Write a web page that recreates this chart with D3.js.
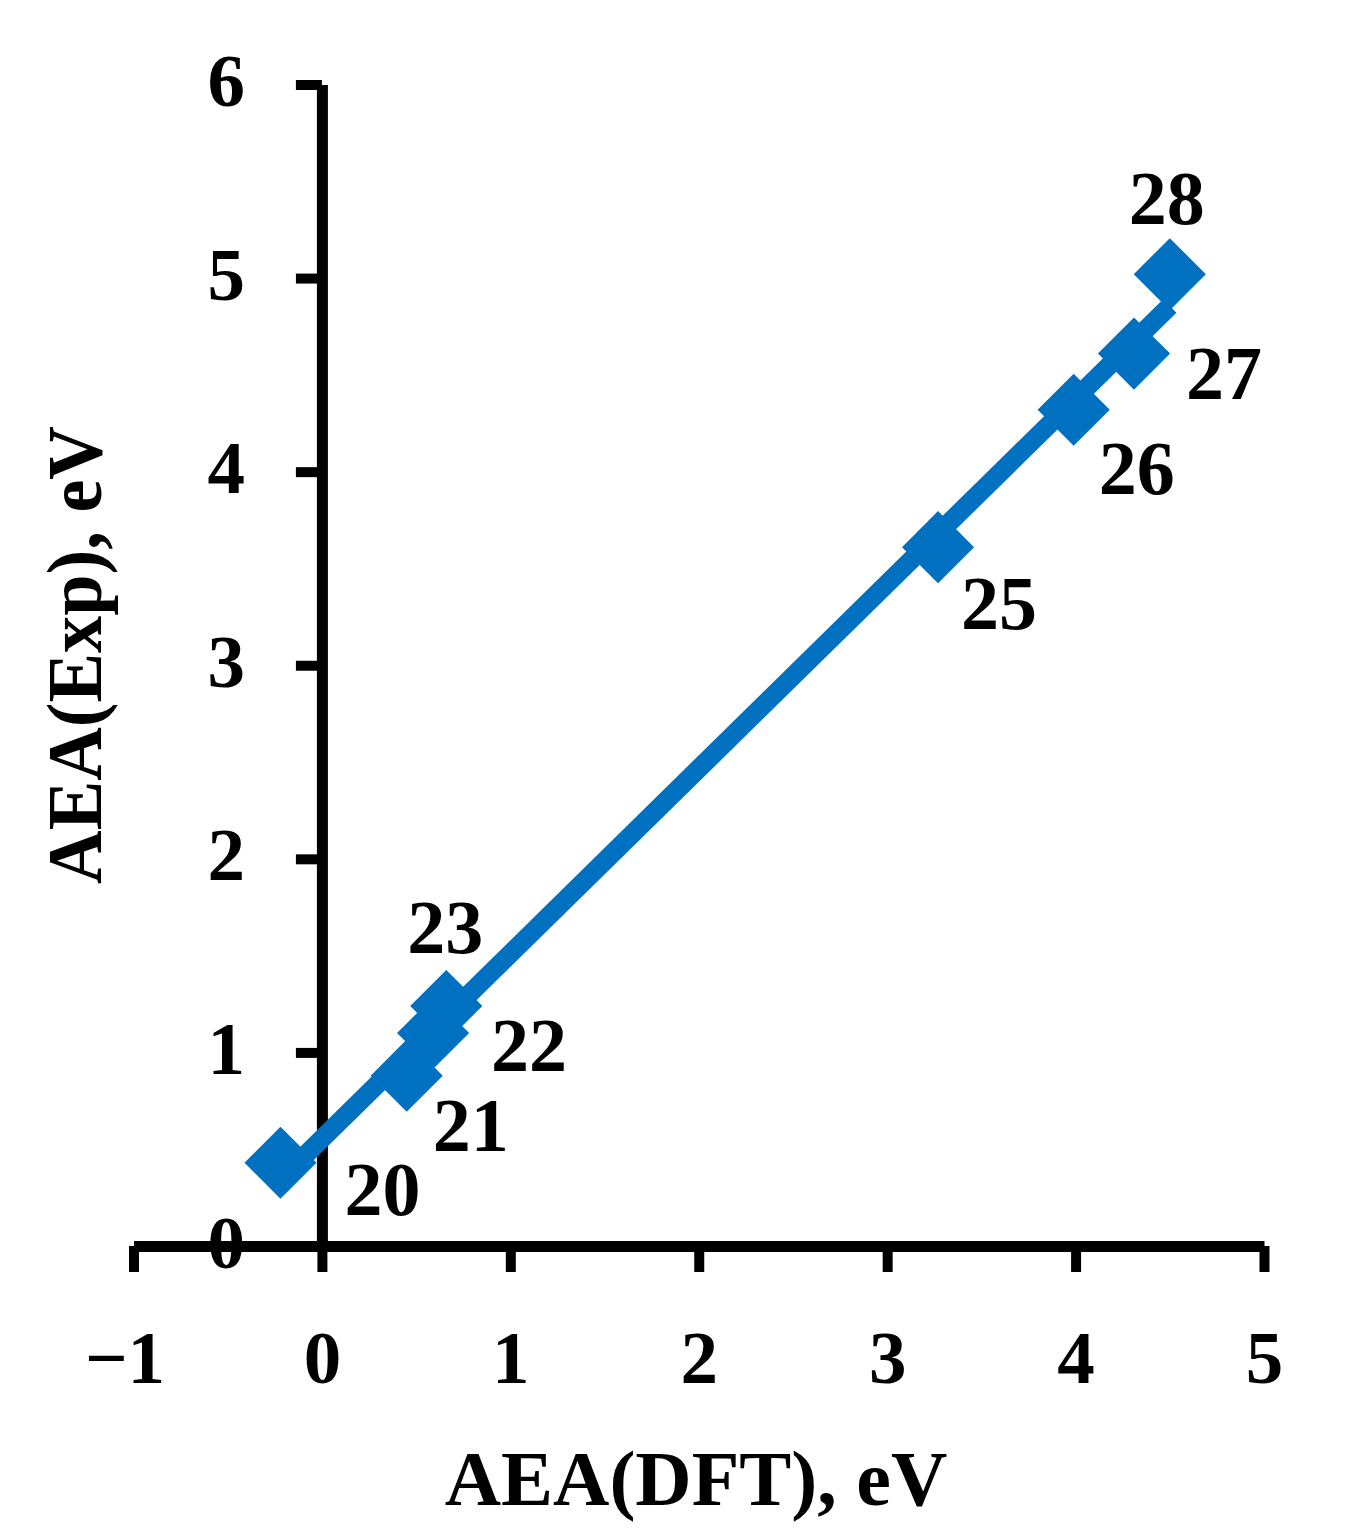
<!DOCTYPE html>
<html>
<head>
<meta charset="utf-8">
<script src="https://cdn.jsdelivr.net/npm/d3@7"></script>
<style>
  html, body { margin: 0; padding: 0; background: #fff; }
  svg { display: block; }
  text { font-family: "Liberation Serif", "Times New Roman", serif; font-weight: bold; fill: #000; }
</style>
</head>
<body>
<svg id="chart" width="1346" height="1535"></svg>
<script>
// ---- data ----
const compounds = ["20", "21", "22", "23", "25", "26", "27", "28"];
const aeaDFT = [-0.22, 0.45, 0.59, 0.66, 3.27, 3.99, 4.31, 4.50];
const aeaExp = [0.43, 0.88, 1.10, 1.24, 3.61, 4.32, 4.61, 5.02];
const xTicks = [-1, 0, 1, 2, 3, 4, 5];
const yTicks = [0, 1, 2, 3, 4, 5, 6];
const xTitle = "AEA(DFT), eV";
const yTitle = "AEA(Exp), eV";

// ---- layout (not data) ----
const labelOffsets = [[102, 28], [64, 51], [96, 14], [-1, -77], [61, 58], [63, 60], [90, 21], [-3, -75]];
const blue = "#0070C0";

const svg = d3.select("#chart");
const x = d3.scaleLinear().domain([-1, 5]).range([133.5, 1264]);
const y = d3.scaleLinear().domain([0, 6]).range([1246, 84.5]);

const points = compounds.map((c, i) => ({ name: c, x: aeaDFT[i], y: aeaExp[i], off: labelOffsets[i] }));

// y axis
const gy = svg.append("g")
  .attr("transform", `translate(${x(0)},0)`)
  .call(d3.axisLeft(y).tickValues(yTicks).tickFormat(d3.format("d")).tickSize(26).tickSizeOuter(0).tickPadding(51));
// x axis
const gx = svg.append("g")
  .attr("transform", `translate(0,${y(0)})`)
  .call(d3.axisBottom(x).tickValues(xTicks).tickFormat(d3.format("d")).tickSize(26).tickSizeOuter(0).tickPadding(58));

[gy, gx].forEach(g => {
  g.selectAll(".tick line").attr("stroke", "#000").attr("stroke-width", 10).attr("stroke-linecap", "butt");
  g.selectAll(".tick text").attr("font-size", 75).attr("fill", "#000")
    .style("font-family", '"Liberation Serif", "Times New Roman", serif').style("font-weight", "bold");
  g.select(".domain").attr("stroke", "#000").attr("stroke-width", 11).attr("fill", "none");
});
gy.selectAll(".tick text").attr("dy", "0.28em");
gx.selectAll(".tick text").attr("dy", "0.71em");
gx.selectAll(".tick text").filter(d => d < 0).attr("dx", "-0.12em");
// domain lines over tick labels
gy.select(".domain").raise();
gx.raise();
gx.select(".domain").raise();

// linear trendline (least squares fit of the data)
const mx = d3.mean(aeaDFT), my = d3.mean(aeaExp);
const slope = d3.sum(aeaDFT, (v, i) => (v - mx) * (aeaExp[i] - my)) / d3.sum(aeaDFT, v => (v - mx) ** 2);
const intercept = my - slope * mx;
const xExt = d3.extent(aeaDFT);
svg.append("path")
  .datum(xExt.map(v => [v, intercept + slope * v]))
  .attr("d", d3.line().x(d => x(d[0])).y(d => y(d[1])))
  .attr("stroke", blue).attr("stroke-width", 19).attr("fill", "none").attr("stroke-linecap", "butt");

// markers
const sym = d3.symbol().type(d3.symbolSquare).size(2600);
svg.append("g").selectAll("path").data(points).join("path")
  .attr("d", sym)
  .attr("transform", d => `translate(${x(d.x)},${y(d.y)}) rotate(45)`)
  .attr("fill", blue);

// data labels
svg.append("g").selectAll("text").data(points).join("text")
  .attr("x", d => x(d.x) + d.off[0])
  .attr("y", d => y(d.y) + d.off[1])
  .attr("dy", "0.32em")
  .attr("text-anchor", "middle")
  .attr("font-size", 76)
  .text(d => d.name);

// axis titles
svg.append("text")
  .attr("x", 696).attr("y", 1505)
  .attr("text-anchor", "middle")
  .attr("font-size", 78)
  .text(xTitle);

svg.append("text")
  .attr("transform", "translate(101,655) rotate(-90)")
  .attr("text-anchor", "middle")
  .attr("font-size", 78)
  .attr("textLength", 458)
  .attr("lengthAdjust", "spacingAndGlyphs")
  .text(yTitle);
</script>
</body>
</html>
